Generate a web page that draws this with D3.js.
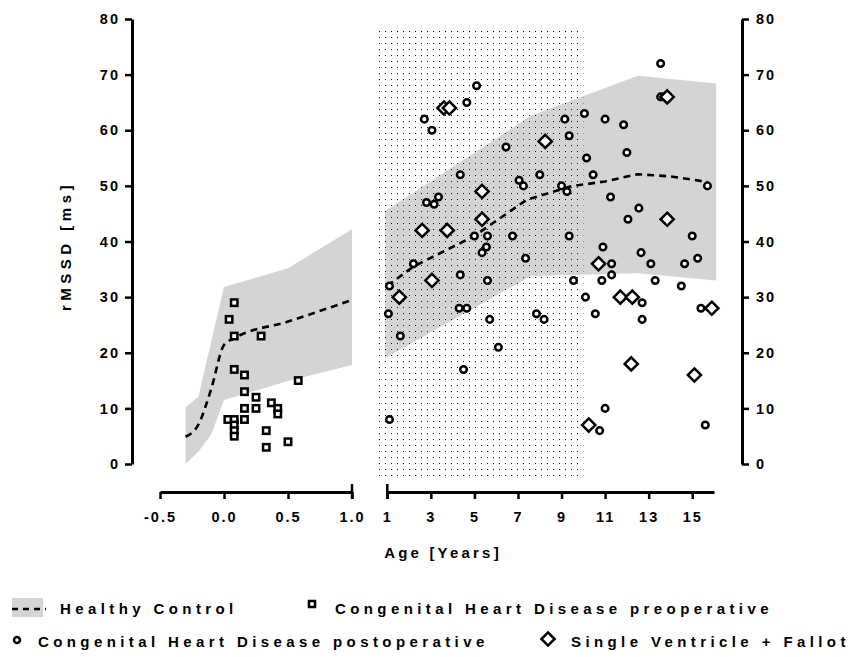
<!DOCTYPE html>
<html>
<head>
<meta charset="utf-8">
<script src="https://cdn.jsdelivr.net/npm/d3@7"></script>
<style>
  body { margin: 0; background: #fff; }
  svg text { font-family: "Liberation Sans", Arial, sans-serif; font-weight: bold; }
</style>
</head>
<body>
<svg id="chart" width="853" height="657"></svg>
<script>
// healthy control, infants (age in years, rMSSD ms)
const infantAge = [-0.3, -0.2, -0.1, 0, 0.5, 1.0];
const infantUpper = [10.2, 12.1, 22, 31.8, 35.2, 42.2];
const infantLower = [0, 2.2, 5.3, 11.5, 14.9, 17.8];
const infantMeanAge = [-0.3, -0.2, -0.1, 0, 0.08, 0.5, 1.0];
const infantMean = [4.9, 7.1, 13.5, 21.4, 22.6, 25.6, 29.5];

// healthy control, children
const childAge = [0.9, 7.6, 12.5, 16.1];
const childUpper = [45.5, 62.6, 69.8, 68.4];
const childLower = [19, 33.8, 34.3, 33];
const childMeanAge = [1, 2.2, 5, 7.4, 9.4, 11, 12.5, 14, 15.7];
const childMean = [32, 35.5, 41, 47.5, 49.9, 50.8, 52.1, 51.7, 50.7];

// stippled age window
const stippleAge = [0.5, 10.0];
const stippleValue = [-3, 78];

// CHD preoperative (squares, infant panel)
const preop = [
  [0.08, 29], [0.04, 26], [0.08, 23], [0.29, 23], [0.08, 17], [0.16, 16],
  [0.16, 13], [0.25, 12], [0.25, 10], [0.16, 10], [0.37, 11], [0.42, 10],
  [0.42, 9], [0.58, 15], [0.03, 8], [0.08, 8], [0.16, 8], [0.08, 7],
  [0.08, 6], [0.08, 5], [0.33, 6], [0.33, 3], [0.5, 4]
];

// CHD postoperative (circles, child panel)
const postop = [
  [5.1, 68], [4.65, 65], [2.7, 62], [3.05, 60], [6.45, 57], [9.15, 62],
  [10.05, 63], [11.0, 62], [9.35, 59], [10.15, 55], [10.45, 52], [11.25, 48],
  [4.35, 52], [7.05, 51], [7.25, 50], [8.0, 52], [9.0, 50], [9.25, 49],
  [2.8, 47], [3.35, 48], [3.15, 46.7], [5.0, 41], [5.6, 41], [6.75, 41],
  [9.35, 41], [5.55, 39], [5.35, 38], [7.35, 37], [2.2, 36], [10.9, 39],
  [11.3, 36], [4.35, 34], [5.6, 33], [9.55, 33], [1.1, 32], [1.05, 27],
  [1.6, 23], [4.3, 28], [4.65, 28], [5.7, 26], [7.85, 27], [8.2, 26],
  [6.1, 21], [4.5, 17], [1.1, 8], [10.1, 30], [10.85, 33], [11.3, 34],
  [10.55, 27], [11.0, 10], [10.75, 6], [13.55, 72], [13.55, 66], [13.7, 66],
  [11.85, 61], [12.0, 56], [15.7, 50], [12.55, 46], [12.05, 44], [15.0, 41],
  [12.65, 38], [13.1, 36], [14.65, 36], [15.25, 37], [13.3, 33], [14.5, 32],
  [12.15, 30], [12.7, 29], [12.7, 26], [15.4, 28], [15.6, 7]
];

// single ventricle + Fallot (diamonds, child panel)
const svFallot = [
  [3.6, 64], [3.85, 64], [8.25, 58], [5.35, 49], [5.35, 44], [2.6, 42],
  [3.75, 42], [3.05, 33], [1.55, 30], [10.7, 36], [13.85, 66], [13.85, 44],
  [11.7, 30], [12.25, 30], [12.2, 18], [15.1, 16], [15.9, 28], [10.25, 7]
];

const yTicks = [0, 10, 20, 30, 40, 50, 60, 70, 80];
const infantTicks = [-0.5, 0, 0.5, 1.0];
const childTicks = [1, 3, 5, 7, 9, 11, 13, 15];

const svg = d3.select('#chart');
const grey = '#d4d4d4';

const y = d3.scaleLinear().domain([0, 80]).range([464, 19]);
const xInf = d3.scaleLinear().domain([-0.5, 1.0]).range([160, 352]);
const xChild = d3.scaleLinear().domain([1, 16]).range([387.3, 714]);

// dot pattern for the stippled window
svg.append('defs')
  .append('pattern')
  .attr('id', 'dots')
  .attr('patternUnits', 'userSpaceOnUse')
  .attr('width', 6)
  .attr('height', 6)
  .append('rect')
  .attr('x', 1)
  .attr('y', 1)
  .attr('width', 1)
  .attr('height', 1)
  .attr('shape-rendering', 'crispEdges')
  .attr('fill', '#111');

// Healthy control bands
const infantBand = infantAge.map((a, i) => [a, infantLower[i], infantUpper[i]]);
const childBand = childAge.map((a, i) => [a, childLower[i], childUpper[i]]);

svg.append('path')
  .datum(infantBand)
  .attr('fill', grey)
  .attr('d', d3.area().x(d => xInf(d[0])).y0(d => y(d[1])).y1(d => y(d[2])));

svg.append('path')
  .datum(childBand)
  .attr('fill', grey)
  .attr('d', d3.area().x(d => xChild(d[0])).y0(d => y(d[1])).y1(d => y(d[2])));

// stippled window
svg.append('rect')
  .attr('x', xChild(stippleAge[0]))
  .attr('y', y(stippleValue[1]))
  .attr('width', xChild(stippleAge[1]) - xChild(stippleAge[0]))
  .attr('height', y(stippleValue[0]) - y(stippleValue[1]))
  .attr('fill', 'url(#dots)');

// mean lines
const dashed = (g) => g.attr('fill', 'none').attr('stroke', '#000')
  .attr('stroke-width', 2.6).attr('stroke-dasharray', '7,5');

svg.append('path')
  .datum(infantMeanAge.map((a, i) => [a, infantMean[i]]))
  .call(dashed)
  .attr('d', d3.line().curve(d3.curveMonotoneX).x(d => xInf(d[0])).y(d => y(d[1])));

svg.append('path')
  .datum(childMeanAge.map((a, i) => [a, childMean[i]]))
  .call(dashed)
  .attr('d', d3.line().x(d => xChild(d[0])).y(d => y(d[1])));

// markers
const markerStyle = (s) => s.attr('fill', '#fff').attr('stroke', '#000').attr('stroke-width', 2.5);
const diamond = 'M0,-6.6L6.6,0L0,6.6L-6.6,0Z';

svg.append('g').selectAll('rect')
  .data(preop)
  .join('rect')
  .attr('x', d => xInf(d[0]) - 3.2)
  .attr('y', d => y(d[1]) - 3.2)
  .attr('width', 6.4)
  .attr('height', 6.4)
  .call(markerStyle);

svg.append('g').selectAll('circle')
  .data(postop)
  .join('circle')
  .attr('cx', d => xChild(d[0]))
  .attr('cy', d => y(d[1]))
  .attr('r', 3.3)
  .call(markerStyle);

svg.append('g').selectAll('path')
  .data(svFallot)
  .join('path')
  .attr('d', diamond)
  .attr('transform', d => `translate(${xChild(d[0])},${y(d[1])})`)
  .call(markerStyle);

// axes
function styleAxis(g) {
  g.select('.domain').attr('stroke-width', 3);
  g.selectAll('.tick line').attr('stroke-width', 2.5);
  g.selectAll('.tick text')
    .attr('fill', '#000')
    .style('font-size', '14.5px')
    .style('font-weight', 'bold')
    .style('letter-spacing', '2px');
}

svg.append('g')
  .attr('transform', 'translate(132,0)')
  .call(d3.axisLeft(y).tickValues(yTicks).tickSize(7).tickSizeOuter(0).tickPadding(5))
  .call(styleAxis);

svg.append('g')
  .attr('transform', 'translate(742,0)')
  .call(d3.axisRight(y).tickValues(yTicks).tickSize(7).tickSizeOuter(0).tickPadding(7))
  .call(styleAxis);

const xAxisY = 492;
svg.append('g')
  .attr('transform', `translate(0,${xAxisY})`)
  .call(d3.axisBottom(xInf).tickValues(infantTicks).tickSize(7).tickSizeOuter(0)
    .tickPadding(13).tickFormat(d => d.toFixed(1)))
  .call(styleAxis);

svg.append('g')
  .attr('transform', `translate(0,${xAxisY})`)
  .call(d3.axisBottom(xChild).tickValues(childTicks).tickSize(7).tickSizeOuter(0)
    .tickPadding(13))
  .call(styleAxis);

// break marks at the inner ends of the two x axes
svg.append('g').selectAll('line')
  .data([xInf(1.0), xChild(1)])
  .join('line')
  .attr('x1', d => d).attr('x2', d => d)
  .attr('y1', xAxisY - 8).attr('y2', xAxisY + 7)
  .attr('stroke', '#000').attr('stroke-width', 2.5);

// axis titles
svg.append('text')
  .attr('transform', 'translate(71,246) rotate(-90)')
  .attr('text-anchor', 'middle')
  .style('font-size', '15px')
  .style('letter-spacing', '4.5px')
  .text('rMSSD [ms]');

svg.append('text')
  .attr('x', 443)
  .attr('y', 558)
  .attr('text-anchor', 'middle')
  .style('font-size', '15px')
  .style('letter-spacing', '3.2px')
  .text('Age [Years]');

// legend
const legend = svg.append('g');
const legendText = (x, yy, label) => legend.append('text')
  .attr('x', x).attr('y', yy)
  .style('font-size', '15px')
  .style('letter-spacing', '4.4px')
  .text(label);

legend.append('rect')
  .attr('x', 12).attr('y', 598).attr('width', 31).attr('height', 19)
  .attr('fill', grey);
legend.append('line')
  .attr('x1', 12).attr('x2', 46).attr('y1', 609).attr('y2', 609)
  .attr('stroke', '#000').attr('stroke-width', 2.3).attr('stroke-dasharray', '6,5');
legendText(60, 614, 'Healthy Control');

legend.append('rect')
  .attr('x', 309).attr('y', 601).attr('width', 6).attr('height', 6)
  .call(markerStyle);
legendText(335, 614, 'Congenital Heart Disease preoperative');

legend.append('circle')
  .attr('cx', 17).attr('cy', 640).attr('r', 3)
  .call(markerStyle);
legendText(38, 647, 'Congenital Heart Disease postoperative');

legend.append('path')
  .attr('d', diamond)
  .attr('transform', 'translate(548,639)')
  .call(markerStyle);
legendText(571, 647, 'Single Ventricle + Fallot');
</script>
</body>
</html>
